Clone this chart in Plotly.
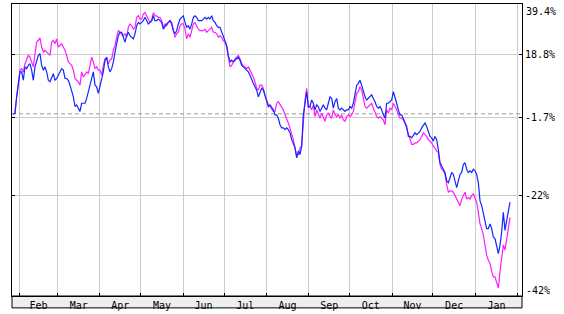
import math
import pandas as pd
import plotly.graph_objects as go

# ---- data (percent change) ----
blue_pct = [
    -0.6, -0.3, 4.7, 9.5, 12.8, 12.8, 10.0, 14.5, 13.9, 15.0, 15.6, 13.4, 10.0, 14.5, 16.8, 18.5,
    19.1, 15.0, 13.4, 14.5, 12.8, 10.0, 9.5, 11.1, 12.2, 10.0, 10.6, 11.7, 12.8, 13.9, 13.4, 10.6,
    10.6, 10.0, 8.4, 6.8, 4.7, 1.7, 2.2, 1.2, 0.2, 2.7, 2.7, 2.7, 4.2, 6.3, 8.4, 11.1,
    12.8, 8.4, 7.9, 5.8, 8.4, 10.0, 12.8, 16.8, 17.9, 14.5, 12.8, 13.9, 16.2, 19.7, 22.7, 25.7,
    27.0, 27.0, 25.1, 23.3, 25.7, 27.0, 25.7, 25.1, 24.5, 26.4, 29.5, 30.8, 30.2, 30.8, 31.5, 32.8,
    31.5, 30.2, 30.8, 31.5, 33.4, 31.5, 31.5, 32.1, 31.5, 30.8, 28.2, 29.5, 30.2, 30.8, 31.5, 30.2,
    27.6, 26.4, 27.6, 30.2, 32.1, 32.8, 33.4, 30.8, 28.9, 29.5, 28.2, 30.2, 32.8, 33.4, 32.8, 31.5,
    31.5,
    31.5, 32.1, 32.8, 32.1, 32.8, 32.1, 33.4, 31.5, 30.8, 29.5, 28.9, 28.9, 27.0, 25.1, 23.3, 22.1,
    18.5, 16.2, 16.8, 16.2, 16.8, 17.3, 17.9, 16.8, 15.0, 14.5, 13.9, 13.4, 12.8, 11.7, 10.0, 9.0,
    7.9, 6.8, 4.7, 6.3, 7.4, 6.8, 5.3, 3.2, 1.7, 2.2, 1.2, 0.7, -0.8, -0.8, -1.8, -3.7,
    -4.6, -4.6, -5.1, -4.6, -5.1, -6.0, -7.9, -8.8, -10.1, -12.8, -11.0, -11.9, -9.7, -0.8, 2.7, 6.3,
    1.7, 1.7, 3.7, 2.7, 0.7, 2.2, 1.7, 0.2, 1.2, 2.2, 1.2, 0.7, 2.7, 4.7, 4.2, 1.2,
    3.2, 4.2, 1.2, 0.7, 1.2, 0.7, 0.2, 0.7, 0.7, 1.7, 1.2, 2.7, 5.3, 8.4, 9.0, 10.0,
    8.4, 6.3, 4.7, 3.7, 4.2, 4.7, 5.3, 4.2, 3.2, 1.7, 1.2, 1.7,
    0.7, -0.8, -1.8, 2.7, 2.7, 3.2, 3.7, 6.3, 4.7, 2.7, 0.7, -0.8, -0.8, -1.8, -3.2, -4.2,
    -7.0, -7.0, -7.4, -6.5, -6.0, -6.5, -6.0, -5.6, -4.6, -3.7, -3.2, -4.2, -5.6, -7.0, -7.4, -8.3,
    -7.0, -7.9, -10.6, -14.0, -14.9, -15.7, -16.5, -18.6, -19.0, -17.8, -16.5, -17.0, -19.0, -20.2, -18.6, -17.0,
    -16.5, -14.5, -14.0, -15.7, -16.5, -16.1, -16.5, -15.7, -16.1, -17.0, -19.0, -23.3, -24.4, -25.9, -27.7, -29.4,
    -29.4, -28.4, -29.4, -31.2, -31.5, -32.8, -34.5, -32.8, -30.1, -25.9, -29.8, -27.7, -25.1, -23.6,
]

magenta_pct = [
    -0.6, -0.3, 4.7, 9.5, 13.4, 13.9, 12.8, 15.6, 17.3, 18.5, 17.9, 16.2, 14.5, 19.1, 23.3, 23.9,
    24.9, 21.5, 19.7, 20.3, 19.7, 19.1, 18.5, 23.3, 23.9, 22.7, 24.5, 21.5, 22.1, 22.7, 21.5, 20.3,
    18.5, 16.2, 15.6, 15.0, 13.4, 10.6, 10.0, 9.5, 8.4, 12.8, 11.1, 12.2, 12.8, 12.2, 15.0, 17.9,
    16.2, 13.9, 14.5, 13.4, 13.4, 11.7, 15.0, 17.3, 17.3, 15.6, 16.8, 17.3, 20.3, 22.1, 25.1, 27.6,
    27.0, 26.4, 25.7, 26.4, 25.1, 28.9, 30.2, 29.5, 28.2, 28.9, 32.8, 33.4, 32.1, 32.1, 34.1, 34.7,
    33.4, 31.5, 30.8, 31.5, 34.7, 33.4, 33.4, 32.8, 32.8, 31.5, 28.9, 30.2, 29.5, 30.8, 31.5, 30.8,
    27.6, 25.1, 26.4, 27.0, 29.5, 30.2, 30.2, 28.2, 24.5, 26.4, 25.1, 28.2, 30.2, 30.8, 29.5, 28.2,
    27.6,
    27.6, 27.6, 28.2, 27.0, 27.6, 28.2, 28.9, 27.0, 27.0, 26.4, 25.1, 25.7, 25.1, 23.9, 23.3, 21.5,
    17.3, 14.5, 15.0, 16.2, 17.3, 17.9, 18.5, 17.3, 15.6, 15.0, 14.5, 13.9, 14.5, 13.4, 12.2, 11.1,
    9.5, 7.4, 6.8, 8.4, 8.4, 7.4, 5.3, 3.7, 2.2, 1.7, 0.7, 0.2, 0.2, 2.7, 3.2, 2.2,
    1.2, 0.7, -0.8, -1.8, -3.2, -4.6, -6.0, -7.9, -10.1, -12.3, -11.9, -10.1, -9.7, -2.3, 3.7, 7.4,
    1.2, 1.7, 0.7, 2.2, -1.3, 0.7, -0.8, -1.8, -0.3, -1.8, -2.7, -0.8, -0.3, -1.3, -1.8, 0.7,
    -0.8, -1.3, -0.8, -1.8, -0.8, -2.3, -2.7, -1.3, -0.8, -1.3, -0.8, 0.2, 3.7, 5.8, 6.3, 7.9,
    6.8, 4.2, 1.7, 1.2, 1.7, 2.2, 2.7, 1.2, -0.3, -1.3, -1.8, -1.3,
    -1.8, -2.3, -3.7, 0.7, -0.3, 1.2, 0.7, 2.7, 1.7, 0.7, -0.8, -1.8, -1.8, -2.3, -3.2, -4.6,
    -6.0, -7.9, -9.2, -9.2, -8.8, -8.8, -8.3, -7.9, -7.0, -6.0, -6.5, -7.0, -7.9, -8.3, -8.8, -9.7,
    -10.1, -11.0, -11.4, -14.5, -15.7, -16.1, -17.0, -19.4, -21.3, -21.0, -21.0, -21.3, -22.1, -22.9, -23.6, -24.4,
    -22.9, -22.1, -21.3, -22.9, -22.5, -22.9, -22.1, -21.7, -22.9, -23.6, -25.9, -28.4, -29.4, -30.8, -32.8, -34.8,
    -35.8, -36.4, -37.9, -38.9, -38.9, -39.8, -40.9, -37.9, -34.8, -32.8, -33.8, -31.5, -28.7, -27.0,
]

first_sample = "2007-01-27 15:00"
last_sample = "2008-01-26 10:00"
dates = pd.date_range(first_sample, last_sample, periods=len(blue_pct))

x_range = ["2007-01-26 15:40", "2008-02-04 04:50"]
y_range_pct = [-42.3, 38.2]

tick_pct = [18.8, -1.7, -22.0]
tick_text = ["18.8%", "-1.7%", "-22%"]
edge_labels = ["39.4%", "-42%"]
baseline_pct = -0.5

BLUE = "#1226ff"
MAGENTA = "#ff1cff"
FONT = "DejaVu Sans Mono"


def ratio(p):
    return 1 + p / 100.0


fig = go.Figure()

fig.add_trace(go.Scatter(
    x=x_range, y=[ratio(baseline_pct)] * 2, mode="lines",
    line=dict(color="#999999", width=1, dash="4px,3px"), hoverinfo="skip",
))
fig.add_trace(go.Scatter(
    x=dates, y=[ratio(v) for v in magenta_pct], mode="lines",
    line=dict(color=MAGENTA, width=1.2),
))
fig.add_trace(go.Scatter(
    x=dates, y=[ratio(v) for v in blue_pct], mode="lines",
    line=dict(color=BLUE, width=1.2),
))

fig.update_xaxes(
    type="date", range=x_range,
    tick0="2007-02-01", dtick="M1", tickformat="%b", ticklabelmode="period",
    ticks="inside", ticklen=3, tickcolor="black",
    showgrid=True, gridcolor="#cccccc", gridwidth=1,
    showline=True, linecolor="black", linewidth=1, mirror=True,
    tickfont=dict(family=FONT, size=10, color="black"),
    zeroline=False,
)
fig.update_yaxes(
    type="log", side="right",
    range=[math.log10(ratio(y_range_pct[0])), math.log10(ratio(y_range_pct[1]))],
    tickvals=[ratio(v) for v in tick_pct], ticktext=tick_text,
    ticks="inside", ticklen=3, tickcolor="black",
    showgrid=True, gridcolor="#cccccc", gridwidth=1,
    showline=True, linecolor="black", linewidth=1, mirror="ticks",
    tickfont=dict(family=FONT, size=10, color="black"),
    zeroline=False,
)

# grey label strip below the plot
fig.add_shape(type="rect", xref="paper", yref="paper", x0=0, x1=1, y0=-12 / 295, y1=0,
              fillcolor="#eeeeee", line=dict(color="black", width=1), layer="below")

fig.add_annotation(text=edge_labels[0], xref="paper", yref="paper", x=1, y=0.974,
                   xanchor="left", yanchor="middle", xshift=2, showarrow=False,
                   font=dict(family=FONT, size=10, color="black"))
fig.add_annotation(text=edge_labels[1], xref="paper", yref="paper", x=1, y=0.02,
                   xanchor="left", yanchor="middle", xshift=2, showarrow=False,
                   font=dict(family=FONT, size=10, color="black"))

fig.update_layout(
    width=564, height=314,
    margin=dict(l=12, r=42, t=3, b=16, pad=0),
    plot_bgcolor="white", paper_bgcolor="white",
    showlegend=False,
)

fig.write_html("out.html")
